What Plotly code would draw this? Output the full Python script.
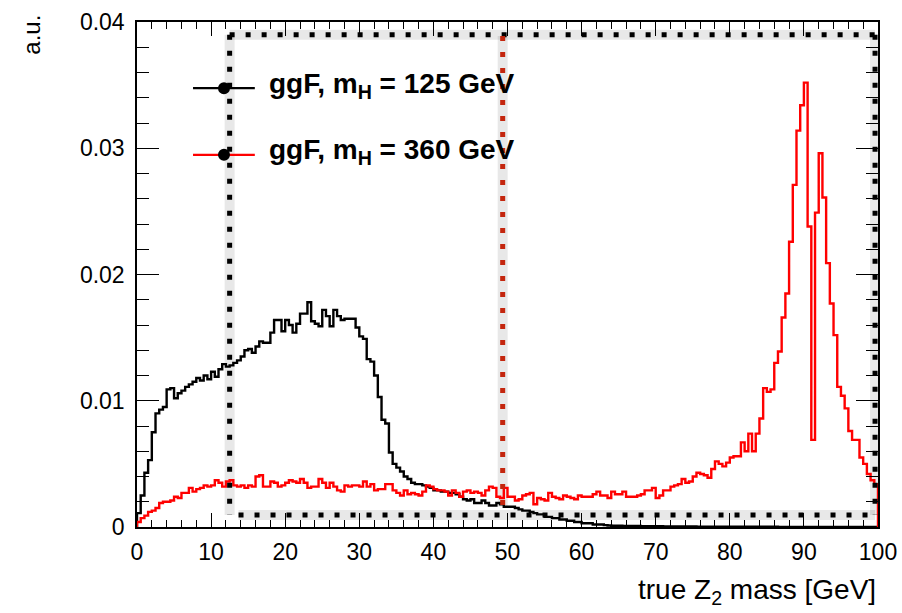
import numpy as np
import plotly.graph_objects as go

# ---------------- data ----------------
x_lo, x_hi, n_bins = 0.0, 100.0, 200

black_vals = [
    0.0011, 0.0025, 0.0043, 0.0053, 0.0075, 0.0090, 0.0093, 0.0095, 0.0109, 0.0110,
    0.0102, 0.0106, 0.0108, 0.0111, 0.0113, 0.0115, 0.0118, 0.0116, 0.0120, 0.0117,
    0.0123, 0.0119, 0.0125, 0.0129, 0.0127, 0.0128, 0.0130, 0.0132, 0.0135, 0.0140,
    0.0141, 0.0138, 0.0143, 0.0147, 0.0146, 0.0146, 0.0154, 0.0164, 0.0164, 0.0155,
    0.0164, 0.0160, 0.0154, 0.0161, 0.0169, 0.0169, 0.0178, 0.0163, 0.0161, 0.0159,
    0.0172, 0.0167, 0.0159, 0.0172, 0.0167, 0.0164, 0.0165, 0.0165, 0.0165, 0.0158,
    0.0151, 0.0149, 0.0133, 0.0131, 0.0120, 0.0103, 0.0085, 0.0082, 0.0059, 0.0050,
    0.0047, 0.0044, 0.0040, 0.0038, 0.0035, 0.0034, 0.0034, 0.0033, 0.0032, 0.0031,
    0.0029, 0.0029, 0.0028, 0.0028, 0.0027, 0.0027, 0.0026, 0.0024, 0.0022, 0.0021,
    0.0022, 0.0019, 0.0019, 0.0021, 0.0019, 0.0017, 0.0017, 0.0019, 0.0018, 0.0016,
    0.0016, 0.0016, 0.0015, 0.0014, 0.0013, 0.0013, 0.0012, 0.0011, 0.0010, 0.0010,
    0.0008, 0.0008, 0.0007, 0.0007, 0.0006, 0.0006, 0.0005, 0.0005, 0.0004, 0.0004,
    0.0003, 0.0003, 0.0003, 0.0002, 0.0002, 0.0002, 0.00015, 0.00012, 0.0001, 0.0001,
    0.0001, 0.00009, 0.00009, 0.00008, 0.00008, 0.00008, 0.00007, 0.00007, 0.00007, 0.00006,
    0.00006, 0.00006, 0.00005, 0.00005, 0.00005, 0.00005, 0.00004, 0.00004, 0.00004, 0.00004,
    0.00004, 0.00003, 0.00003, 0.00003, 0.00003, 0.00003, 0.00003, 0.00003, 0.00002, 0.00002,
    0.00002, 0.00002, 0.00002, 0.00002, 0.00002, 0.00002, 0.00002, 0.00002, 0.00002, 0.00002,
    0.00002, 0.00002, 0.00002, 0.00001, 0.00001, 0.00001, 0.00001, 0.00001, 0.00001, 0.00001,
    0.00001, 0.00001, 0.00001, 0.00001, 0.00001, 0.00001, 0.00001, 0.00001, 0.00001, 0.00001,
    0.00001, 0.00001, 0.00001, 0.00001, 0.00001, 0.00001, 0.00001, 0.00001, 0.00001, 0.00001,
]

red_vals = [
    0.0004, 0.0007, 0.0009, 0.0012, 0.0013, 0.0015, 0.0019, 0.0020, 0.0020, 0.0021,
    0.0024, 0.0023, 0.0027, 0.0027, 0.0031, 0.0028, 0.0030, 0.0031, 0.0033, 0.0032,
    0.0033, 0.0037, 0.0035, 0.0032, 0.0036, 0.0037, 0.0033, 0.0032, 0.0033, 0.0031,
    0.0033, 0.0032, 0.0040, 0.0041, 0.0032, 0.0032, 0.0036, 0.0035, 0.0032, 0.0033,
    0.0035, 0.0037, 0.0036, 0.0035, 0.0038, 0.0035, 0.0031, 0.0032, 0.0032, 0.0038,
    0.0035, 0.0031, 0.0035, 0.0032, 0.0029, 0.0028, 0.0033, 0.0032, 0.0033, 0.0033,
    0.0032, 0.0036, 0.0032, 0.0034, 0.0029, 0.0030, 0.0030, 0.0034, 0.0034, 0.0029,
    0.0027, 0.0025, 0.0029, 0.0026, 0.0027, 0.0026, 0.0025, 0.0028, 0.0033, 0.0032,
    0.0030, 0.0029, 0.0029, 0.0028, 0.0025, 0.0029, 0.0027, 0.0024, 0.0028, 0.0029,
    0.0027, 0.0028, 0.0027, 0.0025, 0.0029, 0.0032, 0.0031, 0.0024, 0.0023, 0.0031,
    0.0024, 0.0024, 0.0021, 0.0022, 0.0025, 0.0026, 0.0027, 0.0018, 0.0023, 0.0022,
    0.0021, 0.0027, 0.0024, 0.0023, 0.0022, 0.0025, 0.0024, 0.0023, 0.0022, 0.0025,
    0.0024, 0.0024, 0.0024, 0.0026, 0.0028, 0.0025, 0.0025, 0.0023, 0.0028, 0.0026,
    0.0026, 0.0028, 0.0024, 0.0024, 0.0024, 0.0025, 0.0026, 0.0029, 0.0029, 0.0031,
    0.0023, 0.0025, 0.0029, 0.0029, 0.0032, 0.0033, 0.0034, 0.0038, 0.0035, 0.0036,
    0.0040, 0.0043, 0.0042, 0.0041, 0.0039, 0.0046, 0.0052, 0.0050, 0.0048, 0.0051,
    0.0055, 0.0056, 0.0056, 0.0067, 0.0060, 0.0074, 0.0060, 0.0074, 0.0086, 0.0110,
    0.0107, 0.0109, 0.0130, 0.0139, 0.0166, 0.0185, 0.0226, 0.0271, 0.0314, 0.0334,
    0.0352, 0.0238, 0.0069, 0.0249, 0.0296, 0.0261, 0.0209, 0.0177, 0.0152, 0.0111,
    0.0104, 0.0094, 0.0076, 0.0069, 0.0069, 0.0055, 0.0050, 0.0042, 0.0037, 0.0034,
]

series_names = ["ggF, m<sub>H</sub> = 125 GeV", "ggF, m<sub>H</sub> = 360 GeV"]
series_colors = ["#000000", "#ff0000"]

x_title = "true Z<sub>2</sub> mass [GeV]"
y_title = "a.u."

# selection-window decoration (data units)
box_x = [12.5, 99.6]
box_y = [0.00095, 0.0390]
red_cut_x = 49.35
red_cut_y = [0.0016, 0.0389]

# ---------------- figure ----------------
edges = np.linspace(x_lo, x_hi, n_bins + 1)


def step_xy(vals):
    v = np.asarray(vals, dtype=float)
    xs = np.concatenate([[edges[0]], edges[:-1], [edges[-1]], [edges[-1]]])
    ys = np.concatenate([[0.0], v, [v[-1]], [0.0]])
    return xs, ys


FONT = "Liberation Sans, Arial, Helvetica, sans-serif"

fig = go.Figure()
for vals, col in zip([black_vals, red_vals], series_colors):
    xs, ys = step_xy(vals)
    fig.add_trace(go.Scatter(x=xs, y=ys, mode="lines", line=dict(color=col, width=2.4, shape="hv"),
                             showlegend=False, hoverinfo="skip"))

shapes = []
dot = "5px,11px"
shadow = dict(color="rgba(0,0,0,0.09)", width=10)


def dotted(x0, y0, x1, y1, color):
    shapes.append(dict(type="line", xref="x", yref="y", x0=x0, y0=y0, x1=x1, y1=y1,
                       line=shadow, layer="below"))
    shapes.append(dict(type="line", xref="x", yref="y", x0=x0, y0=y0, x1=x1, y1=y1,
                       line=dict(color=color, width=5, dash=dot), layer="above"))


dotted(box_x[0], box_y[1], box_x[1], box_y[1], "#000000")
dotted(box_x[0], box_y[1], box_x[0], box_y[0], "#000000")
dotted(box_x[0] + 1.2, box_y[0], box_x[1], box_y[0], "#000000")
dotted(box_x[1], box_y[1], box_x[1], box_y[0], "#000000")
dotted(red_cut_x, red_cut_y[1], red_cut_x, red_cut_y[0], "#c4260e")

# legend (paper coordinates of the plot frame)
leg_x0, leg_x1, leg_xm = 0.0756, 0.159, 0.1174
leg_y = [0.869, 0.737]
annotations = []
for yy, col, name in zip(leg_y, series_colors, series_names):
    shapes.append(dict(type="line", xref="paper", yref="paper", x0=leg_x0, x1=leg_x1, y0=yy, y1=yy,
                       line=dict(color=col, width=2.2)))
    shapes.append(dict(type="circle", xref="paper", yref="paper", xsizemode="pixel", ysizemode="pixel",
                       xanchor=leg_xm, yanchor=yy, x0=-6, x1=6, y0=-6, y1=6,
                       fillcolor="#000000", line=dict(color="#000000", width=0)))
    annotations.append(dict(xref="paper", yref="paper", x=0.176, y=yy + 0.006, xanchor="left", yanchor="middle",
                            text="<b>" + name + "</b>", showarrow=False,
                            font=dict(family=FONT, size=28, color="#000000")))

annotations.append(dict(xref="paper", yref="paper", x=1.0, y=-0.09, xanchor="right", yanchor="top",
                        text=x_title, showarrow=False, font=dict(family=FONT, size=28, color="#000000")))
annotations.append(dict(xref="paper", yref="paper", x=-0.142, y=1.018, xanchor="center", yanchor="top",
                        text=y_title, textangle=-90, showarrow=False,
                        font=dict(family=FONT, size=24, color="#000000")))

fig.update_layout(
    width=902, height=613,
    margin=dict(l=137, r=24, t=22, b=86, autoexpand=False),
    paper_bgcolor="white", plot_bgcolor="white",
    font=dict(family=FONT, size=23, color="#000000"),
    shapes=shapes, annotations=annotations, showlegend=False,
)
fig.update_xaxes(range=[x_lo, x_hi], tick0=0, dtick=10, ticks="inside", ticklen=14, tickwidth=1.3,
                 tickcolor="black", showline=True, linecolor="black", linewidth=1.5, mirror="ticks",
                 showgrid=False, zeroline=False, ticklabelstandoff=4, automargin=False,
                 minor=dict(dtick=2, ticks="inside", ticklen=7, tickwidth=1.2, tickcolor="black", showgrid=False))
fig.update_yaxes(range=[0, 0.04], tick0=0, dtick=0.01, ticks="inside", ticklen=22, tickwidth=1.3,
                 tickcolor="black", showline=True, linecolor="black", linewidth=1.5, mirror="ticks",
                 showgrid=False, zeroline=False, ticklabelstandoff=6, automargin=False,
                 minor=dict(dtick=0.002, ticks="inside", ticklen=12, tickwidth=1.2, tickcolor="black", showgrid=False))

fig.write_html("out.html")
